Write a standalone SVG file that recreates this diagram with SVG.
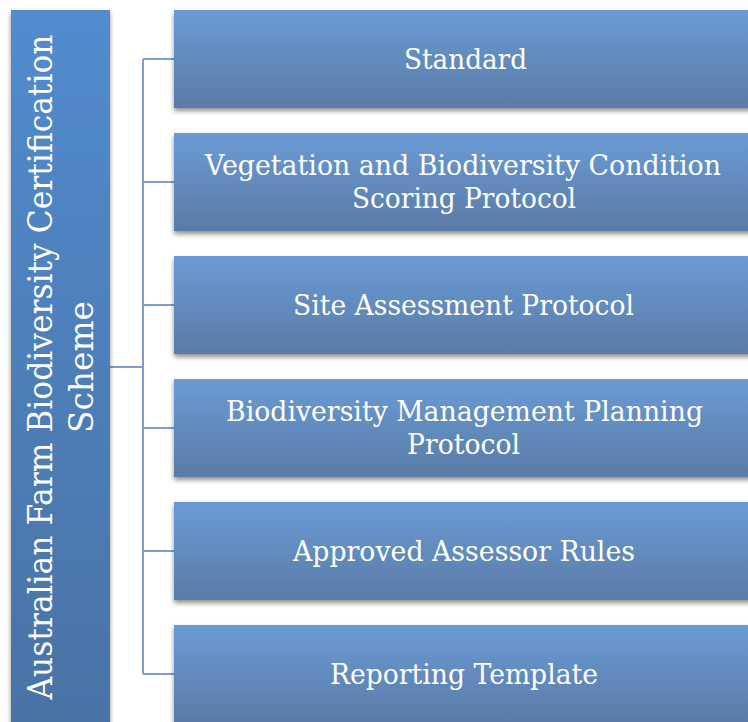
<svg xmlns="http://www.w3.org/2000/svg" width="748" height="722" viewBox="0 0 748 722">
<defs>
<linearGradient id="gBar" x1="0" y1="0" x2="0" y2="1"><stop offset="0" stop-color="#528bce"/><stop offset="1" stop-color="#4a72a4"/></linearGradient>
<linearGradient id="gBox" x1="0" y1="0" x2="0" y2="1"><stop offset="0" stop-color="#6b9bd5"/><stop offset="1" stop-color="#5a7ba6"/></linearGradient>
<filter id="sh" x="-10%" y="-10%" width="120%" height="130%"><feGaussianBlur in="SourceAlpha" stdDeviation="2.5"/><feOffset dx="0" dy="3"/><feComponentTransfer><feFuncA type="linear" slope="0.45"/></feComponentTransfer><feMerge><feMergeNode/><feMergeNode in="SourceGraphic"/></feMerge></filter>
</defs>
<style>
.box{fill:url(#gBox);filter:url(#sh)}
.bar{fill:url(#gBar);filter:url(#sh)}
.t{font-family:"DejaVu Serif","Liberation Serif",serif;font-size:28px;fill:#fff;text-anchor:middle}
.v{font-size:33px}
.c{stroke:#7b9dd2;stroke-width:2;fill:none}
</style>
<g id="connectors">
<path class="c" d="M110 367H143M143 59V674M143 59H174M143 182H174M143 305H174M143 428H174M143 551H174M143 674H174"/>
</g>
<g id="root">
<rect class="bar" x="11" y="10" width="99" height="730"/>
<text class="t v" transform="translate(52 367) rotate(-90)"><tspan x="0" y="0" textLength="665" lengthAdjust="spacingAndGlyphs">Australian Farm Biodiversity Certification</tspan><tspan x="0" y="41" textLength="132" lengthAdjust="spacingAndGlyphs">Scheme</tspan></text>
</g>
<g id="n1"><rect class="box" x="174" y="10" width="584" height="98"/><text class="t" x="465.5" y="68.5" textLength="123" lengthAdjust="spacingAndGlyphs">Standard</text></g>
<g id="n2"><rect class="box" x="174" y="133" width="584" height="98"/><text class="t" x="463" y="175" textLength="516" lengthAdjust="spacingAndGlyphs">Vegetation and Biodiversity Condition</text><text class="t" x="464" y="208" textLength="224" lengthAdjust="spacingAndGlyphs">Scoring Protocol</text></g>
<g id="n3"><rect class="box" x="174" y="256" width="584" height="98"/><text class="t" x="463.5" y="314.5" textLength="341" lengthAdjust="spacingAndGlyphs">Site Assessment Protocol</text></g>
<g id="n4"><rect class="box" x="174" y="379" width="584" height="98"/><text class="t" x="464.5" y="421" textLength="477" lengthAdjust="spacingAndGlyphs">Biodiversity Management Planning</text><text class="t" x="463.5" y="454" textLength="113" lengthAdjust="spacingAndGlyphs">Protocol</text></g>
<g id="n5"><rect class="box" x="174" y="502" width="584" height="98"/><text class="t" x="464" y="560.5" textLength="342" lengthAdjust="spacingAndGlyphs">Approved Assessor Rules</text></g>
<g id="n6"><rect class="box" x="174" y="625" width="584" height="98"/><text class="t" x="464" y="683.5" textLength="268" lengthAdjust="spacingAndGlyphs">Reporting Template</text></g>
</svg>
